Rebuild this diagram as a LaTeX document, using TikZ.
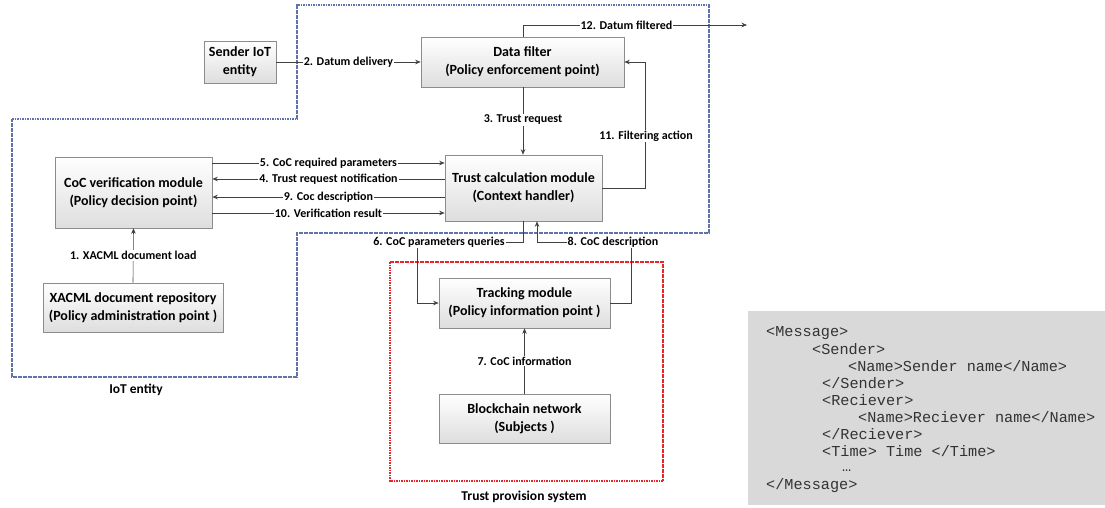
\documentclass[tikz,border=0pt]{standalone}
\usepackage{fontspec}
\setmainfont{Carlito}
\newfontfamily\codefont{Liberation Mono}
\usetikzlibrary{arrows.meta,shadows}
\definecolor{iotblue}{HTML}{5F72AA}
\definecolor{tpsred}{HTML}{E8262A}
\definecolor{lineg}{HTML}{404040}
\definecolor{codegray}{HTML}{D9D9D9}
\definecolor{boxborder}{HTML}{8C8C8C}
\begin{document}
\begin{tikzpicture}[x=1pt,y=-1pt,
  modbox/.style={draw=boxborder, line width=0.6pt, top color=white, bottom color=black!13,
    text=black, align=center, font=\fontsize{14}{18}\selectfont\bfseries, inner sep=0pt,
    drop shadow={shadow xshift=1.2pt, shadow yshift=-1.2pt, opacity=0.25}},
  conn/.style={draw=lineg, line width=0.6pt},
  arr/.style={conn, -{Stealth[length=5.5pt,width=4.5pt]}},
  lbl/.style={fill=white, inner sep=1pt, font=\fontsize{12}{13}\selectfont\bfseries},
  region/.style={line width=1.2pt, dash pattern=on 1.6pt off 0.9pt},
  grouplbl/.style={font=\fontsize{13.5}{15}\selectfont\bfseries},
  code/.style={anchor=west, inner sep=0pt, text height=7pt, text depth=1pt,
    font=\codefont\fontsize{15.2}{17}\selectfont, text=black!80}
]
\useasboundingbox (0,0) rectangle (1105,508);

% regions
\draw[region, draw=iotblue] (12,119) -- (297,119) -- (297,5) -- (709,5) -- (709,233)
  -- (297,233) -- (297,377) -- (12,377) -- cycle;
\draw[region, draw=tpsred] (390,262) rectangle (663,481);
\node[grouplbl] (iotlbl) at (136,390) {IoT entity};
\node[grouplbl] (tpslbl) at (524,497) {Trust provision system};

% code box
\fill[codegray] (748,311) rectangle (1105,505);
\node[code] (c1) at (766,333) {<Message>};
\node[code] (c2) at (812,351) {<Sender>};
\node[code] (c3) at (848,368) {<Name>Sender name</Name>};
\node[code] (c4) at (822,385) {</Sender>};
\node[code] (c5) at (822,402) {<Reciever>};
\node[code] (c6) at (858,419) {<Name>Reciever name</Name>};
\node[code] (c7) at (822,436) {</Reciever>};
\node[code] (c8) at (822,453) {<Time> Time </Time>};
\node[code] (c9) at (842,468) {…};
\node[code] (c10) at (766,486) {</Message>};

% modules
\node[modbox, minimum width=72pt, minimum height=42pt] (sender) at (240,62) {Sender IoT\\entity};
\node[modbox, minimum width=203pt, minimum height=50pt] (filter) at (522.5,62) {Data filter\\(Policy enforcement point)};
\node[modbox, minimum width=157pt, minimum height=66pt] (trust) at (523.5,188) {Trust calculation module\\(Context handler)};
\node[modbox, minimum width=157pt, minimum height=71pt] (coc) at (133.5,192.5) {CoC verification module\\(Policy decision point)};
\node[modbox, minimum width=180pt, minimum height=49pt] (xacml) at (133,307.5) {XACML document repository\\(Policy administration point )};
\node[modbox, minimum width=171pt, minimum height=50pt] (track) at (524.5,303) {Tracking module\\(Policy information point )};
\node[modbox, minimum width=171pt, minimum height=49pt] (block) at (524.5,418.5) {Blockchain network\\(Subjects )};

% helper coordinates
\coordinate (y12) at (523,25);
\coordinate (out) at (747,25);
\coordinate (y5) at (0,163);
\coordinate (y4) at (0,179);
\coordinate (y9) at (0,197);
\coordinate (y10) at (0,213);
\coordinate (r11) at (645,188);
\coordinate (t11) at (645,62);
\coordinate (q6a) at (523,242);
\coordinate (q6b) at (417,242);
\coordinate (q6c) at (417,303);
\coordinate (d8a) at (631,303);
\coordinate (d8b) at (631,242);
\coordinate (d8c) at (537,242);

% connectors
\draw[arr] (sender.east) -- (filter.west) node[lbl, midway] (l2) {2. Datum delivery};
\draw[arr] (filter.north -| y12) -- (y12) -- (out);
\node[lbl] (l12) at (626.5,25) {12. Datum filtered};
\draw[arr] (filter.south -| y12) -- (trust.north -| y12) node[lbl, pos=0.48] (l3) {3. Trust request};
\draw[arr] (trust.east) -- (r11) -- (t11) -- (filter.east);
\node[lbl] (l11) at (646,136) {11. Filtering action};
\draw[arr] (coc.east |- y5) -- (trust.west |- y5) node[lbl, midway] (l5) {5. CoC required parameters};
\draw[arr] (trust.west |- y4) -- (coc.east |- y4) node[lbl, midway] (l4) {4. Trust request notification};
\draw[arr] (trust.west |- y9) -- (coc.east |- y9) node[lbl, midway] (l9) {9. Coc description};
\draw[arr] (coc.east |- y10) -- (trust.west |- y10) node[lbl, midway] (l10) {10. Verification result};
\draw[arr] (xacml.north) -- (coc.south) node[lbl, midway] (l1) {1. XACML document load};
\draw[arr] (trust.south -| q6a) -- (q6a) -- (q6b) -- (q6c) -- (track.west);
\node[lbl] (l6) at (439,242) {6. CoC parameters queries};
\draw[arr] (track.east) -- (d8a) -- (d8b) -- (d8c) -- (trust.south -| d8c);
\node[lbl] (l8) at (613,242) {8. CoC description};
\draw[arr] (block.north) -- (track.south) node[lbl, midway] (l7) {7. CoC information};
\end{tikzpicture}
\end{document}
